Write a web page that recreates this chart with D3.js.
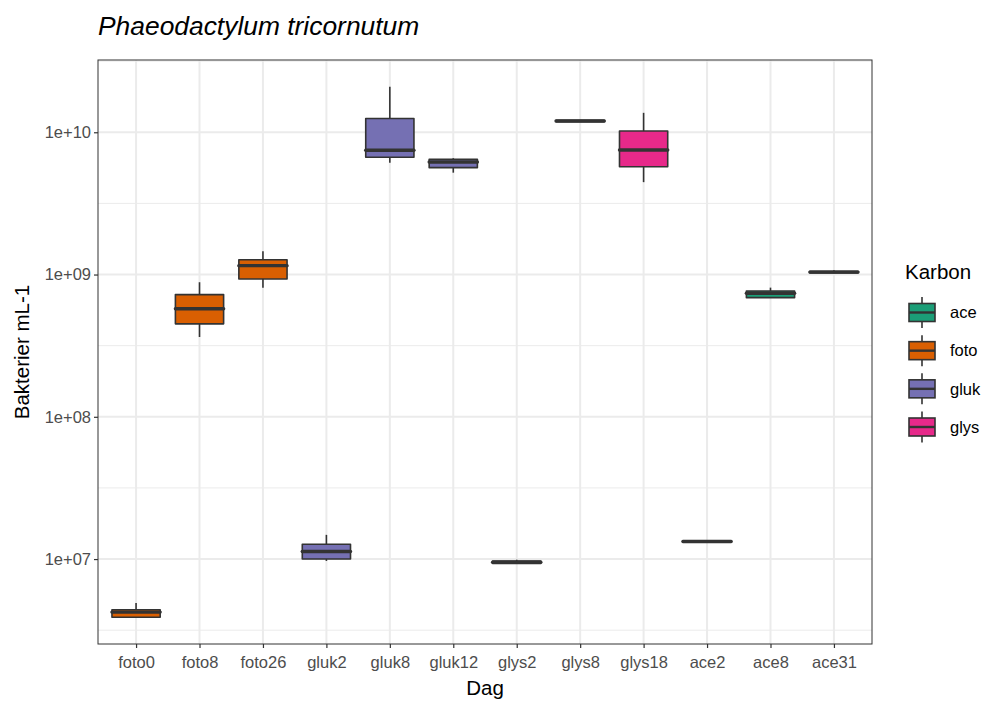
<!DOCTYPE html>
<html>
<head>
<meta charset="utf-8">
<script src="https://cdn.jsdelivr.net/npm/d3@7"></script>
<style>
  body { margin: 0; background: #fff; }
  svg { font-family: "Liberation Sans", Arial, sans-serif; }
</style>
</head>
<body>
<div id="chart"></div>
<script>
// Bacteria per mL, boxplot stats per day (log scale)
const days = ['foto0', 'foto8', 'foto26', 'gluk2', 'gluk8', 'gluk12', 'glys2', 'glys8', 'glys18', 'ace2', 'ace8', 'ace31'];
const karbon = ['foto', 'foto', 'foto', 'gluk', 'gluk', 'gluk', 'glys', 'glys', 'glys', 'ace', 'ace', 'ace'];
const whiskerLow = [3.9e6, 3.64e8, 8.09e8, 9.7e6, 6.11e9, 5.2e9, 9.25e6, 1.18e10, 4.46e9, 1.31e7, 6.88e8, 1.02e9];
const q1 = [3.9e6, 4.5e8, 9.31e8, 1.0e7, 6.67e9, 5.64e9, 9.3e6, 1.185e10, 5.73e9, 1.315e7, 6.88e8, 1.025e9];
const median = [4.24e6, 5.75e8, 1.155e9, 1.13e7, 7.47e9, 6.18e9, 9.5e6, 1.2e10, 7.51e9, 1.33e7, 7.39e8, 1.04e9];
const q3 = [4.4e6, 7.23e8, 1.27e9, 1.27e7, 1.25e10, 6.46e9, 9.7e6, 1.215e10, 1.02e10, 1.345e7, 7.67e8, 1.055e9];
const whiskerHigh = [4.92e6, 8.83e8, 1.46e9, 1.48e7, 2.09e10, 6.57e9, 9.9e6, 1.22e10, 1.37e10, 1.35e7, 8.09e8, 1.07e9];

const legendKeys = ['ace', 'foto', 'gluk', 'glys'];
const legendColors = ['#1B9E77', '#D95F02', '#7570B3', '#E7298A'];
const yTicks = [1e7, 1e8, 1e9, 1e10];

const width = 984, height = 702;
const margin = { top: 60, right: 112, bottom: 58, left: 98 };

const svg = d3.select('#chart').append('svg')
  .attr('width', width)
  .attr('height', height);

const color = d3.scaleOrdinal().domain(legendKeys).range(legendColors);

// ggplot-style discrete expansion: 0.6 units on each side
const x = d3.scalePoint()
  .domain(days)
  .range([margin.left, width - margin.right])
  .padding(0.6);
const unit = x.step();

const y = d3.scaleLog()
  .domain([Math.pow(10, 6.403), Math.pow(10, 10.508)])
  .range([height - margin.bottom, margin.top]);

const plotL = margin.left, plotR = width - margin.right;
const plotT = margin.top, plotB = height - margin.bottom;

// Minor gridlines (midpoints between decades)
const minor = [6.5, 7.5, 8.5, 9.5, 10.5].map(e => Math.pow(10, e)).filter(v => y(v) >= plotT && y(v) <= plotB);
svg.append('g').selectAll('line')
  .data(minor)
  .enter().append('line')
  .attr('x1', plotL).attr('x2', plotR)
  .attr('y1', d => y(d)).attr('y2', d => y(d))
  .attr('stroke', '#EBEBEB').attr('stroke-width', 1);

// Major gridlines
svg.append('g').selectAll('line')
  .data(yTicks)
  .enter().append('line')
  .attr('x1', plotL).attr('x2', plotR)
  .attr('y1', d => y(d)).attr('y2', d => y(d))
  .attr('stroke', '#EBEBEB').attr('stroke-width', 2);

svg.append('g').selectAll('line')
  .data(days)
  .enter().append('line')
  .attr('x1', d => x(d)).attr('x2', d => x(d))
  .attr('y1', plotT).attr('y2', plotB)
  .attr('stroke', '#EBEBEB').attr('stroke-width', 2);

// Boxplots
const boxW = unit * 0.76;
const boxes = svg.append('g').selectAll('g')
  .data(days.map((d, i) => ({ day: d, k: karbon[i], lo: whiskerLow[i], q1: q1[i], med: median[i], q3: q3[i], hi: whiskerHigh[i] })))
  .enter().append('g');

boxes.append('line')
  .attr('x1', d => x(d.day)).attr('x2', d => x(d.day))
  .attr('y1', d => y(d.hi)).attr('y2', d => y(d.lo))
  .attr('stroke', '#333').attr('stroke-width', 1.6);

boxes.append('rect')
  .attr('x', d => x(d.day) - boxW / 2)
  .attr('width', boxW)
  .attr('y', d => y(d.q3))
  .attr('height', d => Math.max(0.5, y(d.q1) - y(d.q3)))
  .attr('fill', d => color(d.k))
  .attr('stroke', '#333').attr('stroke-width', 1.6)
  .attr('stroke-linejoin', 'round');

boxes.append('line')
  .attr('x1', d => x(d.day) - boxW / 2).attr('x2', d => x(d.day) + boxW / 2)
  .attr('y1', d => y(d.med)).attr('y2', d => y(d.med))
  .attr('stroke', '#333').attr('stroke-width', 3.4)
  .attr('stroke-linecap', 'round');

// Panel border
svg.append('rect')
  .attr('x', plotL).attr('y', plotT)
  .attr('width', plotR - plotL).attr('height', plotB - plotT)
  .attr('fill', 'none').attr('stroke', '#333').attr('stroke-width', 1);

// Axes
const xAxis = svg.append('g')
  .attr('transform', `translate(0,${plotB})`)
  .call(d3.axisBottom(x).tickSize(4).tickSizeOuter(0));
xAxis.select('.domain').remove();
xAxis.selectAll('line').attr('stroke', '#333').attr('stroke-width', 1.2);
xAxis.selectAll('text').attr('fill', '#4D4D4D').style('font-size', '16.5px').attr('y', 12);

const yAxis = svg.append('g')
  .attr('transform', `translate(${plotL},0)`)
  .call(d3.axisLeft(y).tickValues(yTicks).tickFormat(d => '1e+' + String(Math.round(Math.log10(d))).padStart(2, '0')).tickSize(4).tickSizeOuter(0));
yAxis.select('.domain').remove();
yAxis.selectAll('line').attr('stroke', '#333').attr('stroke-width', 1.2);
yAxis.selectAll('text').attr('fill', '#4D4D4D').style('font-size', '16.5px').attr('x', -7);

// Axis titles
svg.append('text')
  .attr('x', (plotL + plotR) / 2).attr('y', 695)
  .attr('text-anchor', 'middle')
  .style('font-size', '20.5px')
  .text('Dag');

svg.append('text')
  .attr('transform', `translate(29,${(plotT + plotB) / 2}) rotate(-90)`)
  .attr('text-anchor', 'middle')
  .style('font-size', '20.5px')
  .text('Bakterier mL-1');

// Title
svg.append('text')
  .attr('x', plotL).attr('y', 35)
  .style('font-size', '26.4px')
  .style('font-style', 'italic')
  .text('Phaeodactylum tricornutum');

// Legend
const legend = svg.append('g');
legend.append('text')
  .attr('x', 905).attr('y', 279)
  .style('font-size', '20.5px')
  .text('Karbon');

const keyY = d3.scalePoint().domain(legendKeys).range([312.5, 427]);
const items = legend.selectAll('.key')
  .data(legendKeys)
  .enter().append('g').attr('class', 'key');

items.append('line')
  .attr('x1', 922).attr('x2', 922)
  .attr('y1', d => keyY(d) - 15.5).attr('y2', d => keyY(d) + 15.5)
  .attr('stroke', '#333').attr('stroke-width', 1.6);
items.append('rect')
  .attr('x', 909).attr('width', 26)
  .attr('y', d => keyY(d) - 9).attr('height', 18)
  .attr('fill', d => color(d))
  .attr('stroke', '#333').attr('stroke-width', 1.6);
items.append('line')
  .attr('x1', 909).attr('x2', 935)
  .attr('y1', d => keyY(d)).attr('y2', d => keyY(d))
  .attr('stroke', '#333').attr('stroke-width', 2.4);
items.append('text')
  .attr('x', 950).attr('y', d => keyY(d))
  .attr('dy', '0.35em')
  .style('font-size', '16.5px')
  .text(d => d);
</script>
</body>
</html>
